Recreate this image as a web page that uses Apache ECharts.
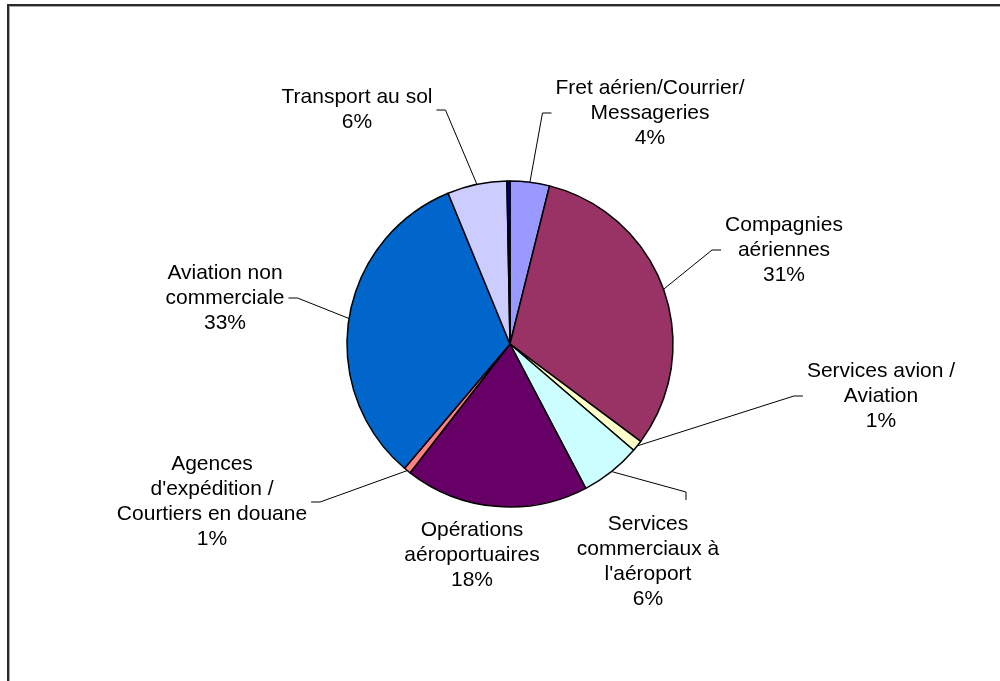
<!DOCTYPE html>
<html>
<head>
<meta charset="utf-8">
<title>Répartition par secteur d'activité</title>
<script src="https://cdn.jsdelivr.net/npm/echarts@6/dist/echarts.min.js"></script>
<style>
  html, body { margin: 0; padding: 0; background: #fff; overflow: hidden; }
  #frame {
    position: absolute; left: 7px; top: 4px; width: 1100px; height: 800px;
    border-left: 2px solid #2a2a2a; border-top: 2px solid #2a2a2a;
    box-shadow: inset 1px 1px 0 #a8a8a8;
  }
  #chart { position: absolute; left: 0; top: 0; width: 1000px; height: 681px; }
</style>
</head>
<body>
<div id="frame"></div>
<div id="chart"></div>
<script>
// Sectors, clockwise from twelve o'clock
const categories = [
  'Fret aérien/Courrier/\nMessageries',
  'Compagnies\naériennes',
  'Services avion /\nAviation',
  'Services\ncommerciaux à\nl\'aéroport',
  'Opérations\naéroportuaires',
  'Agences\nd\'expédition /\nCourtiers en douane',
  'Aviation non\ncommerciale',
  'Transport au sol',
  'Autres'
];
// Share of each sector, in percent
const shares = [3.9, 31.3, 1.1, 6.0, 18.2, 0.7, 32.6, 5.9, 0.3];

const colors = ['#9999FF', '#993366', '#FFFFCC', '#CCFFFF', '#660066',
                '#FF8080', '#0066CC', '#CCCCFF', '#000080'];

// Where each label block sits and which side its leader line attaches to
const labelSpots = [
  { x: 650, y: 113, side: 'left' },
  { x: 784, y: 250, side: 'left' },
  { x: 881, y: 396, side: 'left' },
  { x: 648, y: 562, side: 'top', off: 38 },
  { x: 472, y: 555, side: 'none' },
  { x: 212, y: 502, side: 'right' },
  { x: 225, y: 298, side: 'right' },
  { x: 357, y: 110, side: 'right' },
  null
];

const chart = echarts.init(document.getElementById('chart'), null, { renderer: 'canvas' });

const pieCenter = [510, 344];
const pieRadius = 163;

const data = categories.map((name, i) => ({
  name: name,
  value: shares[i],
  itemStyle: { color: colors[i] },
  label: { show: labelSpots[i] !== null },
  labelLine: { show: labelSpots[i] !== null && labelSpots[i].side !== 'none' }
}));

chart.setOption({
  backgroundColor: 'transparent',
  animation: false,
  series: [{
    type: 'pie',
    center: pieCenter,
    radius: pieRadius,
    startAngle: 90,
    clockwise: true,
    avoidLabelOverlap: false,
    percentPrecision: 1,
    itemStyle: { borderColor: '#000', borderWidth: 1.5 },
    emphasis: { disabled: true },
    label: {
      position: 'outside',
      fontFamily: '"Liberation Sans", Arial, sans-serif',
      fontSize: 21,
      lineHeight: 25,
      color: '#000',
      align: 'center',
      formatter: p => p.name + '\n' + Math.round(p.percent) + '%'
    },
    labelLine: {
      show: true,
      smooth: false,
      length: 10,
      length2: 10,
      lineStyle: { color: '#000', width: 1 }
    },
    labelLayout: function (params) {
      const spot = labelSpots[params.dataIndex];
      if (!spot) return {};
      const w = params.labelRect.width;
      const h = params.labelRect.height;
      const out = { x: spot.x, y: spot.y, align: 'center', verticalAlign: 'middle' };
      if (spot.side === 'none' || !params.labelLinePoints) return out;
      const p0 = params.labelLinePoints[0];
      let end, bend;
      if (spot.side === 'left') {
        end = [spot.x - w / 2 - 4, spot.y];
        bend = [end[0] - 9, end[1]];
      } else if (spot.side === 'right') {
        end = [spot.x + w / 2 + 4, spot.y];
        bend = [end[0] + 9, end[1]];
      } else {
        end = [spot.x + spot.off, spot.y - h / 2 - 12];
        bend = [end[0], end[1] - 8];
      }
      out.labelLinePoints = [[p0[0], p0[1]], bend, end];
      return out;
    },
    data: data
  }]
});
</script>
</body>
</html>
